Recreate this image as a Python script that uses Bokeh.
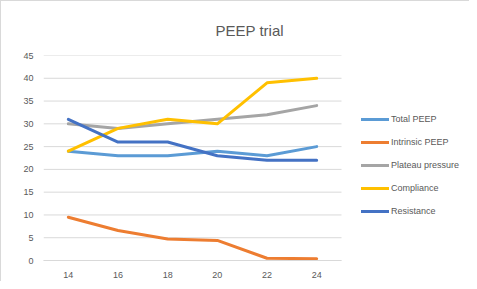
from bokeh.plotting import figure
from bokeh.models import Legend, LegendItem, Range1d, FixedTicker
from bokeh.embed import file_html
from bokeh.resources import INLINE

peep = ["14", "16", "18", "20", "22", "24"]
total_peep = [24, 23, 23, 24, 23, 25]
intrinsic_peep = [9.5, 6.6, 4.7, 4.4, 0.5, 0.4]
plateau_pressure = [30, 29, 30, 31, 32, 34]
compliance = [24, 29, 31, 30, 39, 40]
resistance = [31, 26, 26, 23, 22, 22]
series_names = ["Total PEEP", "Intrinsic PEEP", "Plateau pressure", "Compliance", "Resistance"]
series_values = [total_peep, intrinsic_peep, plateau_pressure, compliance, resistance]
colors = ["#5B9BD5", "#ED7D31", "#A5A5A5", "#FFC000", "#4472C4"]
y_ticks = list(range(0, 50, 5))

FONT = "Liberation Sans"
TXT = "#595959"
GRID = "#D9D9D9"

W, H = 469, 281
LEFT, TOP, BOTTOM = 42, 54, 22
PLOT_W = 298                      # width of the plotting (gridded) area
FRAME_W = W - LEFT                # frame extends under the legend
n = len(peep)
xpos = [i + 0.5 for i in range(n)]   # category centres
x_end = n * FRAME_W / PLOT_W

p = figure(width=W, height=H, x_range=Range1d(0, x_end), y_range=Range1d(0, 45),
           output_backend="svg", toolbar_location=None,
           min_border_left=LEFT, min_border_right=0, min_border_top=TOP, min_border_bottom=BOTTOM,
           styles={"border-top": "1px solid #D9D9D9", "border-left": "1px solid #D9D9D9"})
p.outline_line_color = None
p.xgrid.grid_line_color = None
p.ygrid.grid_line_color = None

# title placed over the centre of the whole chart area
p.title.text = "PEEP trial"
p.title.align = "left"
p.title.offset = 172
p.title.standoff = 34
p.title.text_font = FONT
p.title.text_font_size = "15px"
p.title.text_font_style = "normal"
p.title.text_color = TXT

# horizontal gridlines limited to the category area
p.segment(x0=[0] * len(y_ticks), x1=[n] * len(y_ticks), y0=y_ticks, y1=y_ticks,
          line_color=GRID, line_width=1)

p.yaxis.ticker = FixedTicker(ticks=y_ticks)
p.yaxis.axis_line_color = None
p.xaxis.ticker = FixedTicker(ticks=xpos)
p.xaxis.major_label_overrides = {x: lab for x, lab in zip(xpos, peep)}
p.xaxis.bounds = (0, n)
p.xaxis.axis_line_color = GRID
for ax in (p.xaxis, p.yaxis):
    ax.major_tick_line_color = None
    ax.minor_tick_line_color = None
    ax.major_tick_out = 0
    ax.major_tick_in = 0
    ax.minor_tick_out = 0
    ax.major_label_text_font = FONT
    ax.major_label_text_font_size = "9px"
    ax.major_label_text_color = TXT
p.yaxis.major_label_standoff = 10
p.xaxis.major_label_standoff = 11

items = []
for name, vals, c in zip(series_names, series_values, colors):
    r = p.line(x=xpos, y=vals, line_color=c, line_width=3, line_join="round", line_cap="round")
    items.append(LegendItem(label=name, renderers=[r]))

legend = Legend(items=items, location=(318, 41), orientation="vertical",
                border_line_color=None, background_fill_alpha=0,
                padding=0, margin=0, spacing=7, glyph_width=28, glyph_height=16,
                label_height=16, label_standoff=2,
                label_text_font=FONT, label_text_font_size="9px", label_text_color=TXT)
p.add_layout(legend)

open("out.html", "w").write(file_html(p, INLINE))
